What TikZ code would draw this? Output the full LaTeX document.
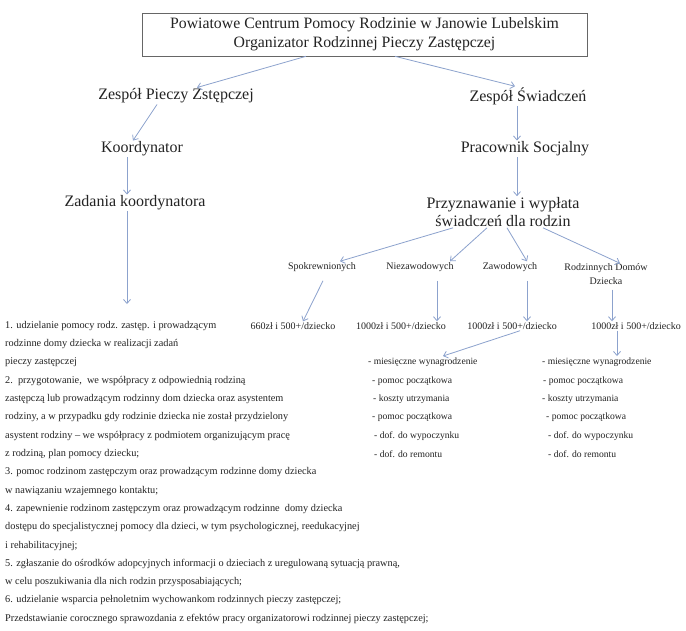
\documentclass[tikz,border=0pt]{standalone}
\usepackage{fontspec}
\setmainfont{Liberation Serif}
\usetikzlibrary{arrows.meta}
\definecolor{arr}{RGB}{140,162,205}
\definecolor{txt}{RGB}{35,35,35}
\begin{document}
\begin{tikzpicture}[x=1pt,y=-1pt,
  conn/.style={draw=arr, line width=0.8pt, -{Straight Barb[length=4pt,width=7pt]}},
  big/.style={font=\fontsize{16}{19}\selectfont, text=txt, inner sep=1pt},
  mid/.style={font=\fontsize{10}{14}\selectfont, text=txt, inner sep=1pt},
  small/.style={font=\fontsize{9.6}{12}\selectfont, text=txt, inner sep=0pt, anchor=west},
  lst/.style={font=\fontsize{10.3}{12}\selectfont, text=txt, inner sep=0pt, anchor=west},
]
\useasboundingbox (0,0) rectangle (686,630);
\fill[white] (0,0) rectangle (686,630);

% top box
\node[draw=black!60, line width=0.6pt, minimum width=445pt, minimum height=43pt,
      align=center, text=txt, font=\fontsize{15.8}{19}\selectfont] (top) at (364.5,34.5)
  {Powiatowe Centrum Pomocy Rodzinie w Janowie Lubelskim\\Organizator Rodzinnej Pieczy Zastępczej};

% second level
\node[big] (zpz) at (176,96) {Zespół Pieczy Zstępczej};
\node[big] (zs) at (528,96) {Zespół Świadczeń};
\node[big] (koord) at (142,149) {Koordynator};
\node[big] (prac) at (525,149) {Pracownik Socjalny};
\node[big] (zad) at (135,203) {Zadania koordynatora};
\node[big, align=center, font=\fontsize{16}{18}\selectfont] (przyz) at (503,212) {Przyznawanie i wypłata\\świadczeń dla rodzin};
\coordinate (zadend) at (127,304);

\draw[conn] ([xshift=-58.5pt]top.south) -- ([xshift=21pt]zpz.north);
\draw[conn] ([xshift=30.5pt]top.south) -- ([xshift=-13pt]zs.north);
\draw[conn] ([xshift=-19pt]zpz.south) -- ([xshift=-9pt]koord.north);
\draw[conn] ([xshift=-15pt]koord.south) -- ([xshift=-8pt]zad.north);
\draw[conn] ([xshift=-8pt]zad.south) -- (zadend);
\draw[conn] ([xshift=-11pt]zs.south) -- ([xshift=-8pt]prac.north);
\draw[conn] ([xshift=-8pt]prac.south) -- ([xshift=14pt]przyz.north);

% categories
\node[mid] (spok) at (322,267) {Spokrewnionych};
\node[mid] (niez) at (420,267) {Niezawodowych};
\node[mid] (zaw) at (510,267) {Zawodowych};
\node[mid, align=center] (rodz) at (606,274) {Rodzinnych Domów\\Dziecka};

\draw[conn] ([xshift=-50pt]przyz.south) -- ([xshift=18pt]spok.north);
\draw[conn] ([xshift=-16pt]przyz.south) -- ([xshift=30pt]niez.north);
\draw[conn] ([xshift=4pt]przyz.south) -- ([xshift=17pt]zaw.north);
\draw[conn] ([xshift=40pt]przyz.south) -- ([shift={(14pt,-1pt)}]rodz.north);

% amounts
\node[mid] (a1) at (293,326) {660zł i 500+/dziecko};
\node[mid] (a2) at (401,326) {1000zł i 500+/dziecko};
\node[mid] (a3) at (512,326) {1000zł i 500+/dziecko};
\node[mid] (a4) at (636,326) {1000zł i 500+/dziecko};

\draw[conn] ([shift={(1pt,-8pt)}]spok.south) -- ([xshift=10pt]a1.north);
\draw[conn] ([shift={(17pt,-8pt)}]niez.south) -- ([xshift=36pt]a2.north);
\draw[conn] ([shift={(17pt,-8pt)}]zaw.south) -- ([xshift=15pt]a3.north);
\draw[conn] ([shift={(6pt,-4pt)}]rodz.south) -- ([xshift=-24pt]a4.north);

% left list
\node[lst] (l1) at (5,326) {1. udzielanie pomocy rodz. zastęp. i prowadzącym};
\node[lst] (l2) at (5,344.3) {rodzinne domy dziecka w realizacji zadań};
\node[lst] (l3) at (5,362.6) {pieczy zastępczej};
\node[lst] (l4) at (5,380.9) {2.\ \ przygotowanie,\ \ we współpracy z odpowiednią rodziną};
\node[lst] (l5) at (5,399.2) {zastępczą lub prowadzącym rodzinny dom dziecka oraz asystentem};
\node[lst] (l6) at (5,417.5) {rodziny, a w przypadku gdy rodzinie dziecka nie został przydzielony};
\node[lst] (l7) at (5,435.8) {asystent rodziny – we współpracy z podmiotem organizującym pracę};
\node[lst] (l8) at (5,454.1) {z rodziną, plan pomocy dziecku;};
\node[lst] (l9) at (5,472.4) {3. pomoc rodzinom zastępczym oraz prowadzącym rodzinne domy dziecka};
\node[lst] (l10) at (5,490.7) {w nawiązaniu wzajemnego kontaktu;};
\node[lst] (l11) at (5,509) {4. zapewnienie rodzinom zastępczym oraz prowadzącym rodzinne\ \ domy dziecka};
\node[lst] (l12) at (5,527.3) {dostępu do specjalistycznej pomocy dla dzieci, w tym psychologicznej, reedukacyjnej};
\node[lst] (l13) at (5,545.6) {i rehabilitacyjnej;};
\node[lst] (l14) at (5,563.9) {5. zgłaszanie do ośrodków adopcyjnych informacji o dzieciach z uregulowaną sytuacją prawną,};
\node[lst] (l15) at (5,582.2) {w celu poszukiwania dla nich rodzin przysposabiających;};
\node[lst] (l16) at (5,600.5) {6. udzielanie wsparcia pełnoletnim wychowankom rodzinnych pieczy zastępczej;};
\node[lst] (l17) at (5,618.8) {Przedstawianie corocznego sprawozdania z efektów pracy organizatorowi rodzinnej pieczy zastępczej;};

% right lists
\node[small] (p1) at (368,362.6) {- miesięczne wynagrodzenie};
\node[small] (p2) at (372,380.9) {- pomoc początkowa};
\node[small] (p3) at (373,399.2) {- koszty utrzymania};
\node[small] (p4) at (372,417.5) {- pomoc początkowa};
\node[small] (p5) at (374,435.8) {- dof. do wypoczynku};
\node[small] (p6) at (374,454.1) {- dof. do remontu};

\node[small] (q1) at (542,362.6) {- miesięczne wynagrodzenie};
\node[small] (q2) at (543,380.9) {- pomoc początkowa};
\node[small] (q3) at (542,399.2) {- koszty utrzymania};
\node[small] (q4) at (546,417.5) {- pomoc początkowa};
\node[small] (q5) at (548,435.8) {- dof. do wypoczynku};
\node[small] (q6) at (548,454.1) {- dof. do remontu};

\draw[conn] ([xshift=8pt]a3.south) -- ([shift={(75pt,2pt)}]p1.north west);
\draw[conn] ([xshift=-19pt]a4.south) -- ([shift={(75pt,2pt)}]q1.north west);
\end{tikzpicture}
\end{document}
